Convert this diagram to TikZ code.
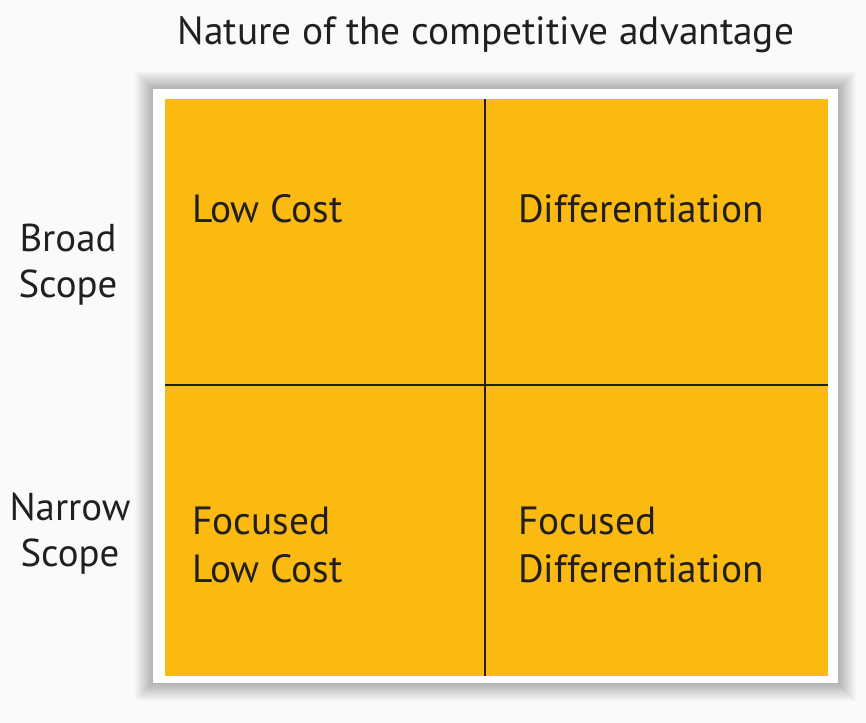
\documentclass[tikz,border=0pt]{standalone}
\usepackage{fontspec}
\setmainfont{PT Sans}
\definecolor{quad}{RGB}{251,186,18}
\definecolor{txt}{RGB}{35,31,32}
\definecolor{bg}{RGB}{250,250,250}
\begin{document}
\begin{tikzpicture}[x=1bp,y=-1bp,
  lbl/.style={font=\fontsize{39.5}{48}\selectfont, text=txt, align=left, anchor=base west, inner sep=0pt},
  side/.style={font=\fontsize{39}{46}\selectfont, text=txt, align=center, anchor=base, inner sep=0pt},
  divider/.style={draw=txt, line width=2.5bp}]
\useasboundingbox (0,0) rectangle (866,723);
\fill[bg] (0,0) rectangle (866,723);
% soft shadow around the frame
\foreach \i in {1,...,18}{
  \fill[black, opacity=0.014] (153-\i,89-\i) rectangle (838+\i,683+\i);
}
\node[fill=white, inner sep=0pt, minimum width=685bp, minimum height=594bp] (frame) at (495.5,386) {};
\node[fill=quad, inner sep=0pt, minimum width=663bp, minimum height=577bp] (grid) at (496.5,387.5) {};
\coordinate (vtop) at (485,99);
\coordinate (vbot) at (485,676);
\coordinate (hl) at (165,385);
\coordinate (hr) at (828,385);
\draw[divider] (vtop) -- (vbot);
\draw[divider] (hl) -- (hr);
\node[font=\fontsize{39.5}{42}\selectfont, text=txt, anchor=base, inner sep=0pt] (title) at (486,45) {Nature of the competitive advantage};
\node[lbl] (lc) at (192,222) {Low Cost};
\node[lbl] (df) at (518,222) {Differentiation};
\node[lbl] (flc) at (192,582) {Focused\\Low Cost};
\node[lbl] (fdf) at (518,582) {Focused\\Differentiation};
\node[side] (bs) at (68,297) {Broad\\Scope};
\node[side] (ns) at (70,566) {Narrow\\Scope};
\end{tikzpicture}
\end{document}
